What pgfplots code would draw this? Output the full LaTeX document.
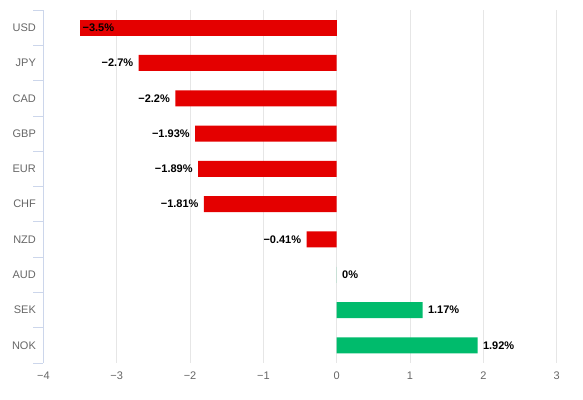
\documentclass[border=0pt]{standalone}
\usepackage{fontspec}
\setmainfont{Liberation Sans}
\usepackage{pgfplots}
\usepackage{pgfplotstable}
\pgfplotsset{compat=1.18}
\definecolor{barred}{RGB}{228,0,0}
\definecolor{bargreen}{RGB}{0,187,108}
\definecolor{axisblue}{RGB}{204,214,235}
\definecolor{gridgray}{RGB}{230,230,230}
\definecolor{ticktext}{RGB}{102,102,102}

\pgfplotstableread[col sep=comma]{
x,y,lab
-3.5,0,−3.5\%
}\usd
\pgfplotstableread[col sep=comma]{
x,y,lab
-2.7,1,−2.7\%
-2.2,2,−2.2\%
-1.93,3,−1.93\%
-1.89,4,−1.89\%
-1.81,5,−1.81\%
-0.41,6,−0.41\%
}\neg
\pgfplotstableread[col sep=comma]{
x,y,lab
0,7,0\%
1.17,8,1.17\%
1.92,9,1.92\%
}\pos

\begin{document}
\begin{tikzpicture}
\useasboundingbox (0,0) rectangle (583pt,399pt);
\begin{axis}[
  at={(43.4pt,36pt)}, anchor=south west,
  scale only axis, width=513.3pt, height=353pt,
  xmin=-4, xmax=3, ymin=-0.5, ymax=9.5,
  y dir=reverse,
  xbar, bar width=16pt, bar shift=0pt,
  axis lines*=left,
  x axis line style={draw=none},
  y axis line style={draw=axisblue, line width=0.8pt},
  xtick={-4,-3,...,3},
  xticklabels={−4,−3,−2,−1,0,1,2,3},
  xmajorgrids, major grid style={draw=gridgray, line width=0.8pt},
  ytick={0,...,9},
  yticklabels={USD,JPY,CAD,GBP,EUR,CHF,NZD,AUD,SEK,NOK},
  minor ytick={-0.5,0.5,...,9.5},
  major tick length=0pt,
  minor tick length=10pt,
  tick align=outside,
  minor tick style={draw=axisblue, line width=0.8pt},
  ticklabel style={font=\fontsize{11}{13}\selectfont, text=ticktext},
  xticklabel style={yshift=-5pt},
  yticklabel style={xshift=-4pt},
  nodes near coords style={font=\fontsize{11}{13}\selectfont\bfseries, text=black},
  clip=false,
]
\addplot[draw=none, fill=barred, point meta=explicit symbolic,
  nodes near coords, nodes near coords style={anchor=west, xshift=-1pt}]
  table[x=x, y=y, meta=lab] {\usd};
\addplot[draw=none, fill=barred, point meta=explicit symbolic,
  nodes near coords, nodes near coords style={anchor=east, xshift=-2pt}]
  table[x=x, y=y, meta=lab] {\neg};
\addplot[draw=none, fill=bargreen, point meta=explicit symbolic,
  nodes near coords, nodes near coords style={anchor=west, xshift=2pt}]
  table[x=x, y=y, meta=lab] {\pos};
\end{axis}
\end{tikzpicture}
\end{document}
